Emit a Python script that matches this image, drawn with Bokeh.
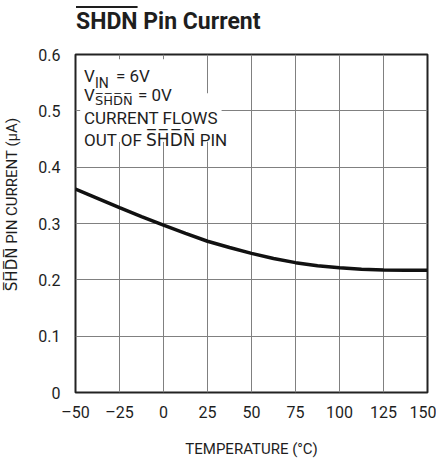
from bokeh.plotting import figure
from bokeh.layouts import column
from bokeh.models import Range1d, FixedTicker, Label, BoxAnnotation, Div
from bokeh.embed import file_html
from bokeh.resources import INLINE

# ---- data ----
temperature = [-50, -37.5, -25, -12.5, 0, 12.5, 25, 37.5, 50, 62.5, 75, 87.5, 100, 112.5, 125, 137.5, 150]
pin_current = [0.361, 0.3445, 0.328, 0.312, 0.297, 0.2825, 0.2685, 0.2575, 0.247, 0.238, 0.2305, 0.225, 0.2215, 0.219, 0.2175, 0.217, 0.217]
x_ticks = [-50, -25, 0, 25, 50, 75, 100, 125, 150]
y_ticks = [0, 0.1, 0.2, 0.3, 0.4, 0.5, 0.6]
x_tick_labels = {-50: "\u201350", -25: "\u201325"}
y_tick_labels = {0: "0"}

FONT = "Roboto"
FONT_OL = "Roboto, DejaVu Sans"
TXT = "#1e1e1e"
OL = "S\u0305H\u0305D\u0305N\u0305"

title_div = Div(
    text='<span style="text-decoration: overline; text-decoration-thickness: 2px;">SHDN</span> Pin Current',
    width=436, height=46, margin=(0, 0, 0, 0),
    styles={"font-family": "Roboto", "font-size": "23px", "font-weight": "bold",
            "color": TXT, "line-height": "1", "padding-left": "76px", "padding-top": "10px",
            "box-sizing": "border-box"})

p = figure(width=436, height=414, output_backend="svg", toolbar_location=None,
           x_range=Range1d(-50, 150), y_range=Range1d(0, 0.6),
           min_border_left=74, min_border_right=9, min_border_top=8, min_border_bottom=56)
p.title = None
p.margin = (0, 0, 0, 0)
p.background_fill_color = "white"
p.border_fill_color = "white"
p.outline_line_color = "#222222"
p.outline_line_width = 2

for ax in (p.xaxis[0], p.yaxis[0]):
    ax.axis_line_color = None
    ax.major_tick_line_color = None
    ax.minor_tick_line_color = None
    ax.major_label_text_font = FONT
    ax.major_label_text_font_size = "16px"
    ax.major_label_text_color = TXT
    ax.axis_label_text_font = FONT_OL
    ax.axis_label_text_font_size = "15px"
    ax.axis_label_text_font_style = "normal"
    ax.axis_label_text_color = TXT

p.xaxis.ticker = FixedTicker(ticks=x_ticks)
p.yaxis.ticker = FixedTicker(ticks=y_ticks)
p.xaxis.major_label_overrides = x_tick_labels
p.yaxis.major_label_overrides = y_tick_labels
p.xaxis.major_label_standoff = 4
p.yaxis.major_label_standoff = 9
p.xaxis.axis_label = "TEMPERATURE (\u00b0C)"
p.xaxis.axis_label_standoff = 15
p.yaxis.axis_label = "\u2002" * 5 + OL + " PIN CURRENT (\u03bcA)"
p.yaxis.axis_label_standoff = 14

p.xgrid.ticker = FixedTicker(ticks=x_ticks)
p.ygrid.ticker = FixedTicker(ticks=y_ticks)
p.grid.grid_line_color = "#808080"
p.grid.grid_line_width = 1

# white area behind the note text (grid shows as short ticks at the frame edge)
p.add_layout(BoxAnnotation(left=-47.2, right=7, top=0.5914, bottom=0.445, fill_color="white",
                           fill_alpha=1, line_color=None, level="underlay"))
p.add_layout(BoxAnnotation(left=-47.2, right=33, top=0.531, bottom=0.445, fill_color="white",
                           fill_alpha=1, line_color=None, level="underlay"))

p.line(temperature, pin_current, line_color="#111111", line_width=3.5)


def lab(text, dx, dy, size, font=FONT):
    p.add_layout(Label(x=-50, y=0.6, x_offset=dx, y_offset=-dy, text=text,
                       text_font=font, text_font_size=f"{size}px",
                       text_color=TXT, text_align="left", text_baseline="alphabetic"))


# note lines
lab("V", 8.5, 21, 17)
lab("IN", 19.5, 28, 14)
lab("= 6V", 40.5, 21, 17)
lab("V", 8.5, 40.3, 17)
lab(OL, 19.5, 46, 13, FONT_OL)
lab("= 0V", 62.5, 40.3, 17)
lab("CURRENT FLOWS", 8.5, 63.7, 17)
lab("OUT OF " + OL + " PIN", 8.5, 85, 17, FONT_OL)

layout = column(title_div, p, spacing=0)
open("out.html", "w").write(file_html(layout, INLINE))
